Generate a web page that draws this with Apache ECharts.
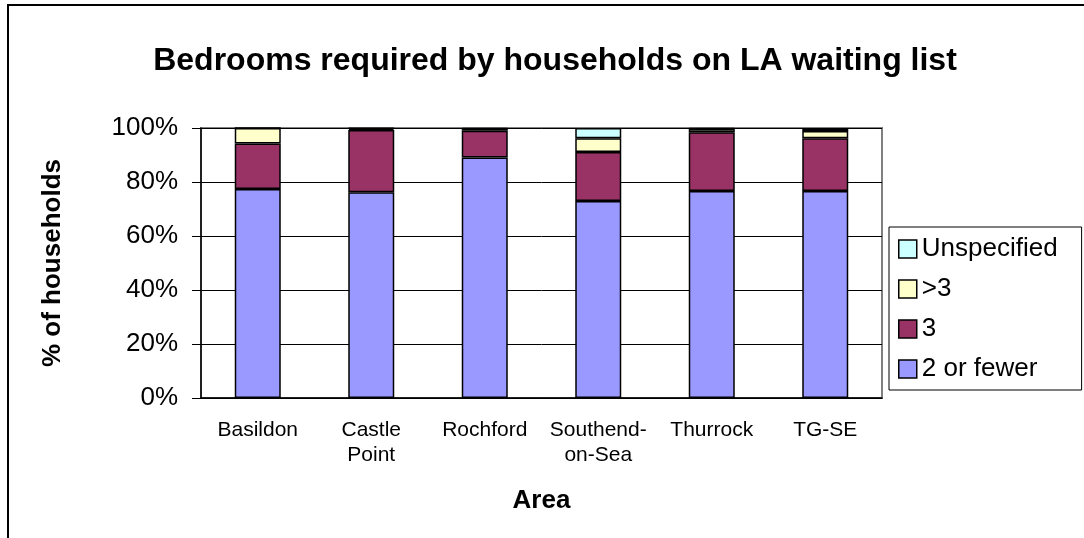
<!DOCTYPE html>
<html>
<head>
<meta charset="utf-8">
<script src="https://cdn.jsdelivr.net/npm/echarts@6/dist/echarts.min.js"></script>
<style>
  body { margin: 0; background: #fff; }
  #main { width: 1084px; height: 538px; }
</style>
</head>
<body>
<div id="main"></div>
<script>
// values (percent of households)
var areas = ['Basildon', 'Castle\nPoint', 'Rochford', 'Southend-\non-Sea', 'Thurrock', 'TG-SE'];
var twoOrFewer = [77.4, 76.2, 89.1, 73.0, 76.7, 76.7];
var three = [16.9, 23.1, 9.9, 18.1, 21.7, 19.5];
var moreThan3 = [5.7, 0.5, 0.7, 5.1, 1.2, 2.7];
var unspecified = [0, 0.2, 0.3, 3.8, 0.4, 1.1];
var yTicks = [0, 20, 40, 60, 80, 100];

var chart = echarts.init(document.getElementById('main'));
var font = 'Arial, "Liberation Sans", sans-serif';

function barSeries(name, data, color) {
    return {
        name: name,
        type: 'bar',
        stack: 'all',
        barWidth: 46,
        data: data,
        itemStyle: { color: color, borderColor: '#000', borderWidth: 1.5 }
    };
}

chart.setOption({
    animation: false,
    textStyle: { fontFamily: font },
    title: {
        text: 'Bedrooms required by households on LA waiting list',
        left: 550,
        top: 40,
        textAlign: 'center',
        textStyle: { fontSize: 32, fontWeight: 'bold', color: '#000', fontFamily: font }
    },
    graphic: [{
        type: 'rect',
        shape: { x: 8, y: 5, width: 1200, height: 700 },
        style: { fill: 'none', stroke: '#000', lineWidth: 2 },
        silent: true
    }],
    grid: {
        left: 201, right: 202, top: 128, bottom: 140,
        show: true, borderColor: '#808080', borderWidth: 2
    },
    legend: {
        data: ['Unspecified', '>3', '3', '2 or fewer'],
        orient: 'vertical',
        left: 889,
        top: 227,
        padding: [9, 24, 8, 9],
        itemGap: 14,
        itemWidth: 18,
        itemHeight: 18,
        icon: 'rect',
        borderColor: '#000',
        borderWidth: 1,
        itemStyle: { borderColor: '#000', borderWidth: 1.5 },
        textStyle: { fontSize: 26, color: '#000', fontFamily: font, padding: [0, 0, 0, 0] }
    },
    xAxis: {
        type: 'category',
        data: areas,
        name: 'Area',
        nameLocation: 'middle',
        nameGap: 90,
        nameTextStyle: { fontSize: 26, fontWeight: 'bold', color: '#000' },
        axisLine: { lineStyle: { color: '#000', width: 1.5 } },
        axisTick: { length: 7, lineStyle: { color: '#000' } },
        axisLabel: { interval: 0, fontSize: 21, color: '#000', margin: 20, lineHeight: 25 }
    },
    yAxis: {
        type: 'value',
        min: yTicks[0],
        max: yTicks[yTicks.length - 1],
        interval: 20,
        name: '% of households',
        nameLocation: 'middle',
        nameGap: 135,
        nameTextStyle: { fontSize: 26, fontWeight: 'bold', color: '#000' },
        axisLine: { show: true, lineStyle: { color: '#000', width: 1.5 } },
        axisTick: { show: true, length: 9, lineStyle: { color: '#000' } },
        axisLabel: { fontSize: 26, color: '#000', margin: 23, formatter: '{value}%' },
        splitLine: { lineStyle: { color: '#000', width: 1 } }
    },
    series: [
        barSeries('2 or fewer', twoOrFewer, '#9999FF'),
        barSeries('3', three, '#993366'),
        barSeries('>3', moreThan3, '#FFFFCC'),
        barSeries('Unspecified', unspecified, '#CCFFFF')
    ]
});
</script>
</body>
</html>
